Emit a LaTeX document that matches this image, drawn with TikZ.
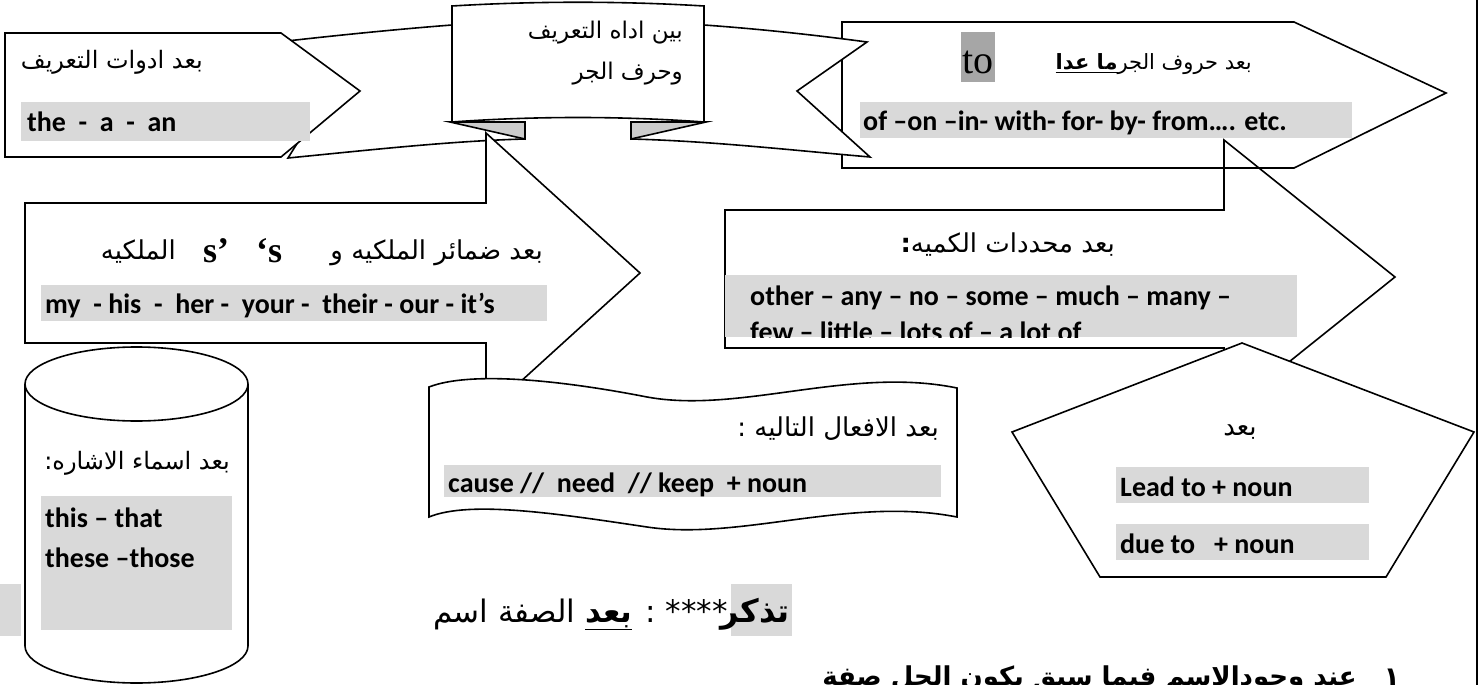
\documentclass[tikz,border=0pt]{standalone}
\usepackage{fontspec}
\setmainfont{Carlito}
\newfontfamily\arabicfont[Script=Arabic]{DejaVu Sans}
\newfontfamily\serifEn{Liberation Serif}
\TeXXeTstate=1
\definecolor{hl}{HTML}{D9D9D9}
\definecolor{tohl}{HTML}{A6A6A6}
\definecolor{fold}{HTML}{CCCCCC}
\tikzset{
  shp/.style={draw=black, line width=1.6pt, fill=white, line join=miter},
  ar/.style={font=\arabicfont\fontsize{23}{27}\selectfont, inner sep=0pt},
  arm/.style={font=\arabicfont\fontsize{26}{30}\selectfont, inner sep=0pt},
  arbig/.style={font=\arabicfont\fontsize{31}{35}\selectfont, inner sep=0pt},
  en/.style={font=\bfseries\fontsize{28}{32}\selectfont, inner sep=0pt},
  bar/.style={fill=hl},
}
\begin{document}
\begin{tikzpicture}[x=1pt,y=-1pt]
\useasboundingbox (0,0) rectangle (1481,685);
\fill[white] (0,0) rectangle (1481,685);

% top right pentagon
\draw[shp] (842,22) -- (1294,22) -- (1446,93) -- (1294,168) -- (842,168) -- cycle;

% ribbon
\draw[shp] (452,25) .. controls (400,29) and (340,35) .. (287,41) -- (330,91) -- (288,158)
   .. controls (370,150) and (450,141) .. (525,139) -- (525,122) -- (452,122) -- cycle;
\draw[shp] (704,25) .. controls (760,29) and (815,35) .. (867,42) -- (797,91) -- (870,157)
   .. controls (790,150) and (710,141) .. (631,139) -- (631,122) -- (704,122) -- cycle;
\draw[shp, fill=fold] (450,122) -- (525,122) -- (525,139) -- cycle;
\draw[shp, fill=fold] (706,122) -- (631,122) -- (631,139) -- cycle;
\draw[shp] (452,6) .. controls (535,1) and (621,1) .. (704,6) -- (704,122)
   .. controls (621,116) and (535,116) .. (452,122) -- cycle;
\node[ar, anchor=base east] (rb1) at (683,39) {\beginR بين اداه التعريف\endR};
\node[ar, anchor=base east] (rb2) at (683,80) {\beginR وحرف الجر\endR};

% top left pentagon
\draw[shp] (5,33) -- (281,33) -- (360,91) -- (281,157) -- (5,157) -- cycle;
\node[ar, anchor=base east, font=\arabicfont\fontsize{24}{28}\selectfont] (p1a) at (203,69) {\beginR بعد ادوات التعريف\endR};
\fill[bar] (21,102) rectangle (310,141);
\node[en, anchor=base west] (p1b) at (27,131) {the\ \ -\ \ a\ \ -\ \ an};

% texts of top right pentagon
\fill[tohl] (961,32) rectangle (995,82);
\node[font=\serifEn\fontsize{40}{44}\selectfont, inner sep=0pt, anchor=base west] (to) at (962,74) {to};
\node[anchor=base east, inner sep=0pt, font=\arabicfont\fontsize{21}{25}\selectfont] (p2a) at (1252,70) {\beginR بعد حروف الجر\underline{\beginR\bfseries ما عدا\endR}\endR};
\fill[bar] (860,102) rectangle (1352,138);
\node[en, anchor=base west] (p2b) at (863,130) {of –on –in- with- for- by- from…. etc.};

% arrow 1 (possessives)
\draw[shp] (25,203) -- (486,203) -- (486,133) -- (640,273) -- (486,413) -- (486,343) -- (25,343) -- cycle;
\node[arm, anchor=base east] (a1a) at (543,259) {\beginR بعد ضمائر الملكيه و\endR};
\node[font=\serifEn\bfseries\fontsize{36}{40}\selectfont, inner sep=0pt, anchor=base west] (a1s) at (203,262) {s’\ \ \ ‘s};
\node[arm, anchor=base east] (a1c) at (176,259) {\beginR الملكيه\endR};
\fill[bar] (41,285) rectangle (547,321);
\node[en, anchor=base west] (a1b) at (45,313) {my\ \ - his\ \ -\ \ her -\ \ your -\ \ their - our - it’s};

% arrow 2 (quantifiers)
\draw[shp, fill=none] (725,210) -- (1224,210) -- (1224,140) -- (1395,277) -- (1224,414) -- (1224,348) -- (725,348) -- cycle;
\node[arm, anchor=base east] (a2a) at (1115,252) {\beginR بعد محددات الكميه\textbf{:}\endR};
\fill[bar] (725,275) rectangle (1297,337);
\node[en, anchor=base west] (a2b) at (750,305) {other – any – no – some – much – many –};
\begin{scope}
\clip (700,270) rectangle (1300,337);
\node[en, anchor=base west] (a2c) at (750,341) {few – little – lots of – a lot of};
\end{scope}

% pentagon (lead to)
\draw[shp] (1012,432) -- (1242,343) -- (1474,432) -- (1386,577) -- (1100,577) -- cycle;
\node[arm, anchor=base] (p3a) at (1240,435) {\beginR بعد\endR};
\fill[bar] (1116,467) rectangle (1369,503);
\fill[bar] (1116,524) rectangle (1369,560);
\node[en, anchor=base west] (p3b) at (1120,496) {Lead to + noun};
\node[en, anchor=base west] (p3c) at (1120,553) {due to\ \ \ + noun};

% wavy banner (verbs)
\draw[shp] (429,387) .. controls (470,371) and (560,380) .. (647,397)
   .. controls (740,414) and (850,366) .. (957,388) -- (957,517)
   .. controls (850,496) and (740,541) .. (647,527)
   .. controls (560,514) and (470,500) .. (429,517) -- cycle;
\node[arm, anchor=base east] (b1) at (939,436) {\beginR بعد الافعال التاليه :\endR};
\fill[bar] (444,465) rectangle (941,497);
\node[en, anchor=base west] (b2) at (448,492) {cause //\ \ need\ \ // keep\ \ + noun};

% cylinder
\draw[shp] (25,384) -- (25,646) arc[start angle=180, end angle=0, x radius=111.5, y radius=37] -- (248,384);
\draw[shp] (136.5,384) ellipse [x radius=111.5, y radius=37];
\node[ar, anchor=base east, font=\arabicfont\fontsize{24}{28}\selectfont] (c1) at (230,469) {\beginR بعد اسماء الاشاره:\endR};
\fill[bar] (41,496) rectangle (232,630);
\node[en, anchor=base west] (c2) at (45,527) {this – that};
\node[en, anchor=base west] (c3) at (45,567) {these –those};
\fill[hl] (0,584) rectangle (21,636);

% remember line
\fill[hl] (731,584) rectangle (792,636);
\node[font=\arabicfont\bfseries\fontsize{32}{36}\selectfont, inner sep=0pt, anchor=base east] (tz) at (790,622) {\beginR تذكر\endR};
\node[arbig, anchor=base east] (tz2) at (728,622) {\beginR **** : \underline{\bfseries بعد} الصفة اسم\endR};

% bottom cut line
\node[font=\arabicfont\bfseries\fontsize{26}{30}\selectfont, inner sep=0pt, anchor=base east] (bl) at (1400,685) {\beginR ١\ \ \ عند وجودالاسم فيما سبق يكون الحل صفة\endR};

% page border
\draw[line width=2pt] (1477,0) -- (1477,685);
\end{tikzpicture}
\end{document}
